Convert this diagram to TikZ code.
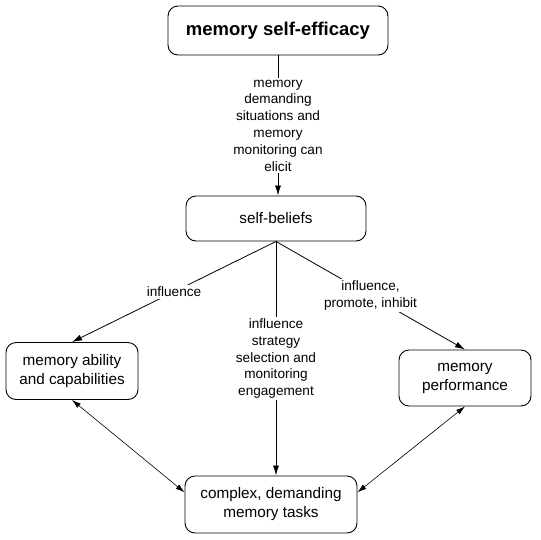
\documentclass[tikz,border=0pt]{standalone}
\usepackage{fontspec}
\setmainfont{Liberation Sans}
\usetikzlibrary{shapes.geometric, arrows.meta}
\tikzstyle{headbox} = [rectangle, rounded corners=10pt, draw, line width=0.9pt, minimum width=220pt, minimum height=49pt, text centered, font=\fontsize{18.5}{21}\selectfont\bfseries]
\tikzstyle{concept} = [rectangle, rounded corners=10pt, draw, line width=0.9pt, minimum width=132pt, minimum height=57pt, align=center, font=\fontsize{15.3}{19}\selectfont]
\tikzstyle{edgetext} = [fill=white, align=center, inner sep=2pt, font=\fontsize{13.6}{16.8}\selectfont]
\tikzstyle{arrow} = [line width=0.8pt, -{Latex[length=10pt,width=6pt]}]
\tikzstyle{both} = [line width=0.6pt, {Latex[length=9pt,width=5.5pt]}-{Latex[length=9pt,width=5.5pt]}]

\begin{document}
\begin{tikzpicture}[x=1pt, y=-1pt]
    \useasboundingbox (0,0) rectangle (541,539);
    \node [headbox] at (278,30.5) (efficacy) {memory self-efficacy};
    \node [concept, minimum width=180pt, minimum height=45pt] at (276,218.5) (beliefs) {self-beliefs};
    \node [concept] at (72,371) (ability) {memory ability\\and capabilities};
    \node [concept, minimum height=56pt] at (465,378) (performance) {memory\\performance};
    \node [concept, minimum width=172pt] at (271,504.5) (tasks) {complex, demanding\\memory tasks};
    \draw [arrow] (efficacy) -- node[edgetext] {memory\\demanding\\situations and\\memory\\monitoring can\\elicit} (efficacy |- beliefs.north);
    \draw [arrow] (beliefs.south) -- node[edgetext] {influence} (ability.north);
    \draw [arrow] (beliefs.south) -- node[edgetext] {influence,\\promote, inhibit} (performance.north);
    \draw [arrow] (beliefs.south) -- node[edgetext] {influence\\strategy\\selection and\\monitoring\\engagement} (beliefs.south |- tasks.north);
    \draw [both] (ability.south) -- (tasks.172);
    \draw [both] (performance.south) -- (tasks.8);
\end{tikzpicture}
\end{document}
